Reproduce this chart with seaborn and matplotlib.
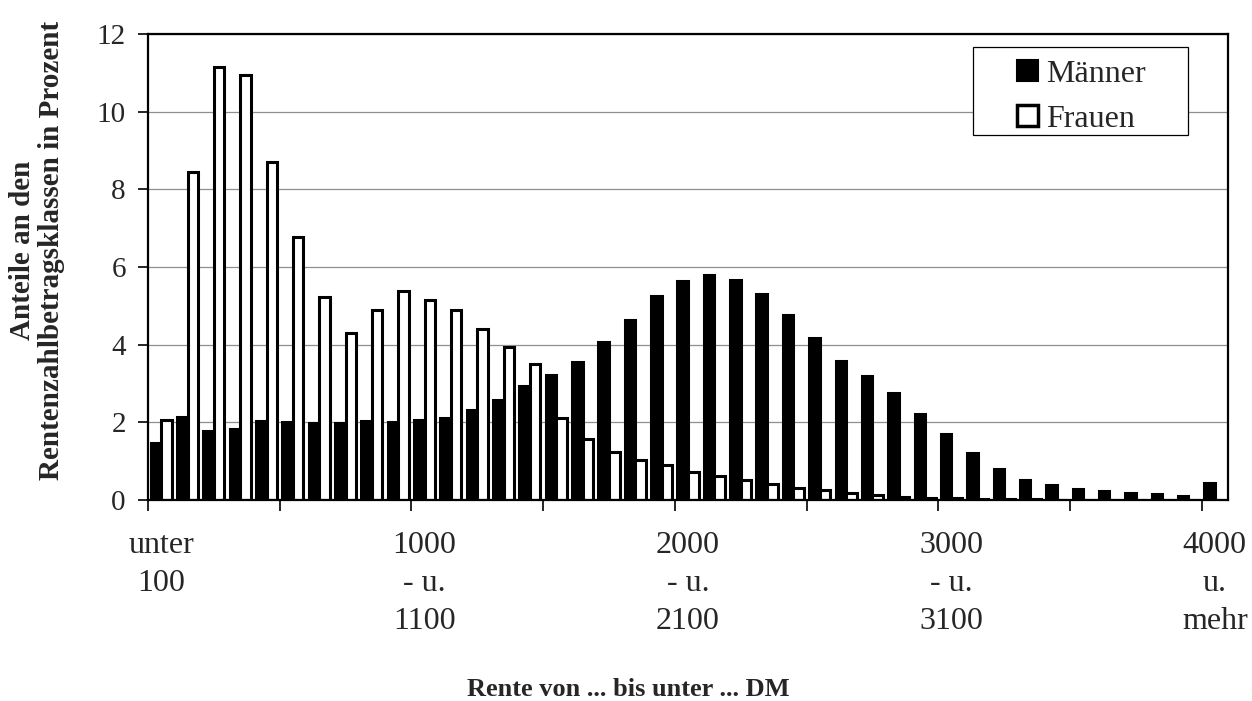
import numpy as np
import pandas as pd
import matplotlib
matplotlib.use('Agg')
import matplotlib.pyplot as plt
from matplotlib.patches import Patch, Rectangle
import seaborn as sns

# ---------------------------------------------------------------------------
# Daten: Anteile an den Rentenzahlbetragsklassen (in Prozent)
# ---------------------------------------------------------------------------
klassen = ['unter 100'] + [f'{v} - u. {v + 100}' for v in range(100, 4000, 100)] + ['4000 u. mehr']

maenner = [1.47, 2.14, 1.78, 1.82, 2.03, 2.01, 1.99, 1.99, 2.04, 2.00,
           2.06, 2.11, 2.31, 2.58, 2.93, 3.21, 3.56, 4.06, 4.64, 5.26,
           5.65, 5.80, 5.66, 5.30, 4.76, 4.16, 3.59, 3.19, 2.76, 2.22,
           1.71, 1.20, 0.79, 0.51, 0.39, 0.28, 0.22, 0.17, 0.15, 0.11,
           0.43]

frauen = [2.07, 8.44, 11.14, 10.95, 8.70, 6.77, 5.24, 4.31, 4.88, 5.38,
          5.14, 4.88, 4.41, 3.94, 3.51, 2.12, 1.56, 1.24, 1.02, 0.90,
          0.73, 0.63, 0.51, 0.42, 0.32, 0.26, 0.18, 0.14, 0.08, 0.05,
          0.04, 0.03, 0.02, 0.02, 0.01, 0.01, 0.01, 0.01, 0.01, 0.01,
          0.01]

gruppen = ['Männer', 'Frauen']
tick_pos = [0, 10, 20, 30, 40]
tick_labels = ['unter\n100', '1000\n- u.\n1100', '2000\n- u.\n2100',
               '3000\n- u.\n3100', '4000\nu.\nmehr']

df = pd.DataFrame({
    'klasse': klassen * 2,
    'anteil': maenner + frauen,
    'geschlecht': ['Männer'] * len(klassen) + ['Frauen'] * len(klassen),
})

# ---------------------------------------------------------------------------
# Plot
# ---------------------------------------------------------------------------
sns.set_theme(style='white')
plt.rcParams['font.family'] = ['Liberation Serif', 'DejaVu Serif']

fig = plt.figure(figsize=(12.52, 7.01), dpi=100)
ax = fig.add_axes([148 / 1252, 1 - 500 / 701, 1080 / 1252, 466 / 701])

sns.barplot(data=df, x='klasse', y='anteil', hue='geschlecht',
            order=klassen, hue_order=gruppen,
            palette={'Männer': 'black', 'Frauen': 'white'},
            edgecolor='black', linewidth=2.2, saturation=1,
            width=0.8, legend=False, ax=ax)

ax.set_xlim(-0.5, len(klassen) - 0.5)
ax.set_ylim(0, 12)
ax.set_yticks(np.arange(0, 13, 2))
ax.yaxis.grid(True, color='#8f8f8f', lw=0.9)
ax.set_axisbelow(True)

# Striche an den Klassengrenzen, Beschriftung nur jede 10. Klasse
ax.set_xticks(np.arange(-0.5, len(klassen) - 1, 5))
ax.set_xticklabels([])
ax.set_xticks(tick_pos, labels=tick_labels, minor=True)
ax.tick_params(axis='x', which='major', direction='out', length=8, width=1.2,
               color='black', bottom=True)
ax.tick_params(axis='x', which='minor', length=0, pad=22, labelsize=23)
ax.tick_params(axis='y', direction='out', length=7, width=1.2, color='black',
               left=True, pad=9, labelsize=21)
for lab in ax.get_xticklabels(minor=True):
    lab.set_linespacing(1.42)

for sp in ax.spines.values():
    sp.set_visible(True)
    sp.set_color('black')
    sp.set_linewidth(1.6)

ax.set_xlabel('')
ax.set_ylabel('')

# Legende mit eigenem Rahmen
ax.add_patch(Rectangle((0.764, 0.783), 0.199, 0.189, transform=ax.transAxes,
                       facecolor='white', edgecolor='black', lw=0.9, zorder=4))
handles = [Patch(facecolor='black', edgecolor='black', lw=1.5),
           Patch(facecolor='white', edgecolor='black', lw=2.5)]
leg = ax.legend(handles, gruppen, loc='upper left', bbox_to_anchor=(0.805, 0.945),
                frameon=False, fontsize=23, handlelength=0.65, handleheight=0.65,
                handletextpad=0.25, labelspacing=0.5, borderpad=0, borderaxespad=0)
leg.set_zorder(6)

fig.text(37 / 1252, 1 - 250 / 701,
         'Anteile an den\nRentenzahlbetragsklassen in Prozent',
         rotation=90, ha='center', va='center', fontsize=21,
         fontweight='bold', linespacing=1.1)
fig.text(628 / 1252, 1 - 690 / 701, 'Rente von ... bis unter ... DM',
         ha='center', va='center', fontsize=19, fontweight='bold')

fig.savefig('out.png', dpi=100)
